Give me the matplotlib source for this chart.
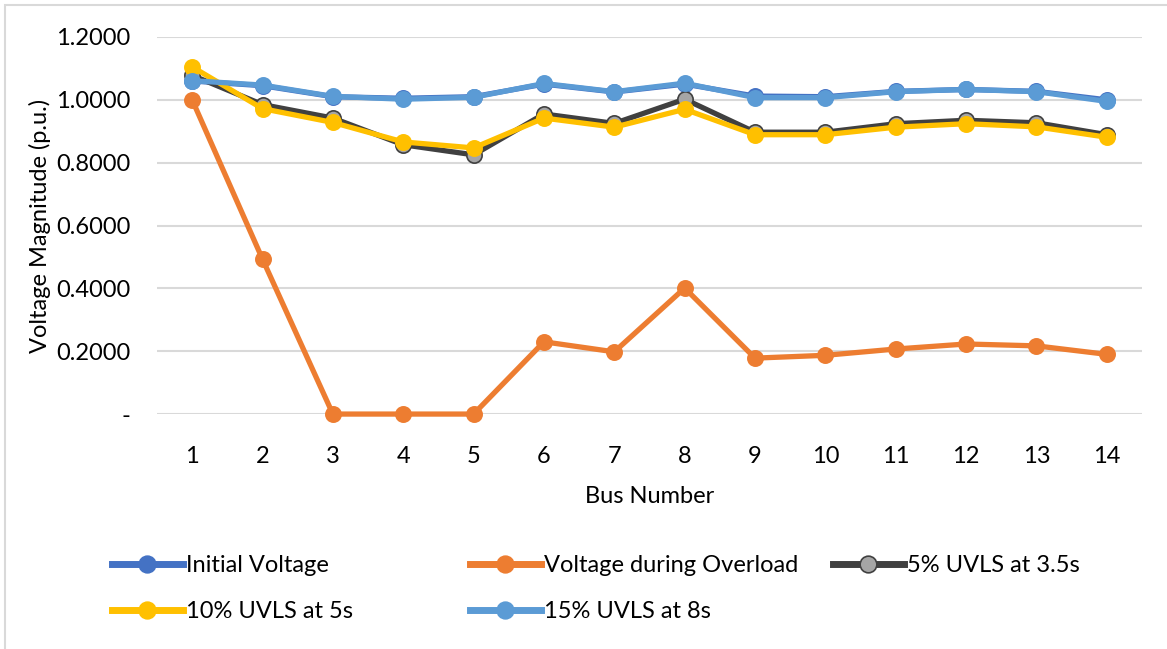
"""Bus voltage profile under overload and UVLS stages."""
import matplotlib.pyplot as plt
from matplotlib.lines import Line2D
from matplotlib.patches import Rectangle

plt.rcParams['font.family'] = ['Lato', 'DejaVu Sans']

# Bus numbers on the x axis
buses = list(range(1, 15))

# Voltage magnitudes (p.u.)
initial_voltage = [1.060, 1.045, 1.010, 1.005, 1.010, 1.050, 1.025, 1.050,
                   1.012, 1.010, 1.027, 1.033, 1.027, 1.000]
overload_voltage = [1.000, 0.493, 0.000, 0.000, 0.000, 0.230, 0.198, 0.401,
                    0.178, 0.187, 0.207, 0.223, 0.217, 0.190]
uvls_5 = [1.078, 0.985, 0.942, 0.857, 0.825, 0.955, 0.925, 1.002,
          0.897, 0.897, 0.924, 0.935, 0.927, 0.889]
uvls_10 = [1.105, 0.972, 0.928, 0.866, 0.847, 0.942, 0.913, 0.970,
           0.889, 0.889, 0.913, 0.924, 0.914, 0.881]
uvls_15 = [1.061, 1.047, 1.011, 1.002, 1.008, 1.052, 1.026, 1.053,
           1.007, 1.007, 1.026, 1.033, 1.026, 0.995]

y_ticks = [0.0, 0.2, 0.4, 0.6, 0.8, 1.0, 1.2]
y_tick_labels = ['-', '0.2000', '0.4000', '0.6000', '0.8000', '1.0000', '1.2000']

# name, values, line colour, marker face colour
series = [
    ('Initial Voltage', initial_voltage, '#4472C4', '#4472C4'),
    ('Voltage during Overload', overload_voltage, '#ED7D31', '#ED7D31'),
    ('5% UVLS at 3.5s', uvls_5, '#404040', '#A5A5A5'),
    ('10% UVLS at 5s', uvls_10, '#FFC000', '#FFC000'),
    ('15% UVLS at 8s', uvls_15, '#5B9BD5', '#5B9BD5'),
]

fig = plt.figure(figsize=(11.67, 6.49), dpi=100)
ax = fig.add_axes([0.1345, 0.362, 0.8441, 0.581])

# light border of the chart area
fig.patches.append(Rectangle((5 / 1167, -0.1), 1.2, 1.1 - 5 / 649,
                             transform=fig.transFigure, fill=False,
                             edgecolor='#D9D9D9', linewidth=1.5))

handles = {}
for name, values, color, face in series:
    line, = ax.plot(buses, values, color=color, linewidth=3.8, marker='o',
                    markersize=11, markerfacecolor=face,
                    markeredgecolor=color, markeredgewidth=1.2,
                    clip_on=False, zorder=3)
    handles[name] = Line2D([], [], color=color, linewidth=5, marker='o',
                           markersize=12, markerfacecolor=face,
                           markeredgecolor=color, markeredgewidth=1.2)

ax.set_xlim(0.5, 14.5)
ax.set_ylim(0, 1.2)
ax.set_xticks(buses)
ax.set_yticks(y_ticks)
ax.set_yticklabels(y_tick_labels)
ax.tick_params(length=0, labelsize=17, colors='black')
ax.tick_params(axis='x', pad=23)
ax.tick_params(axis='y', pad=19)
ax.grid(axis='y', color='#D9D9D9', linewidth=1.5)
ax.set_axisbelow(True)
for side in ax.spines.values():
    side.set_visible(False)

ax.set_xlabel('Bus Number', fontsize=17, labelpad=14)
ax.set_ylabel('Voltage Magnitude (p.u.)', fontsize=17, labelpad=4)

# three legend columns with equal spacing, as in the original
columns = [
    (112, ['Initial Voltage', '10% UVLS at 5s']),
    (470, ['Voltage during Overload', '15% UVLS at 8s']),
    (833, ['5% UVLS at 3.5s']),
]
for x_px, names in columns:
    fig.legend([handles[n] for n in names], names,
               loc='upper left', bbox_to_anchor=(x_px / 1167, 1 - 555 / 649),
               frameon=False, fontsize=17, handlelength=3.0,
               handletextpad=0.15, labelspacing=1.07, borderpad=0,
               borderaxespad=0)

fig.savefig('out.png', dpi=100)
